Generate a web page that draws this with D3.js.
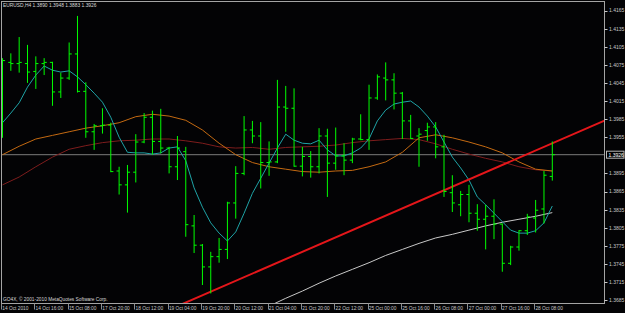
<!DOCTYPE html>
<html>
<head>
<meta charset="utf-8">
<script src="https://cdn.jsdelivr.net/npm/d3@7"></script>
<style>
html, body { margin: 0; padding: 0; background: #000; }
svg { display: block; }
text { font-family: "Liberation Sans", Arial, sans-serif; }
</style>
</head>
<body>
<div id="chart"></div>
<script>
// EURUSD H4 bars, 14 Oct 2010 00:00 .. 28 Oct 2010 16:00
const opens = [1.3970, 1.4079, 1.4077, 1.4077, 1.4064, 1.4077, 1.4079, 1.4030, 1.4053, 1.4093,
  1.4031, 1.3964, 1.3974, 1.3975, 1.3899, 1.3876, 1.3897, 1.3947, 1.3988, 1.3948,
  1.3937, 1.3906, 1.3931, 1.3808, 1.3776, 1.3740, 1.3757, 1.3769, 1.3846, 1.3895,
  1.3967, 1.3957, 1.3913, 1.3914, 1.4005, 1.4003, 1.3907, 1.3923, 1.3906, 1.3957,
  1.3912, 1.3924, 1.3917, 1.3952, 1.3951, 1.4020, 1.4053, 1.4050, 1.4028, 1.3982,
  1.3957, 1.3966, 1.3972, 1.3939, 1.3863, 1.3843, 1.3860, 1.3829, 1.3819, 1.3824,
  1.3811, 1.3746, 1.3773, 1.3800, 1.3821, 1.3836, 1.3890];
const highs = [1.4086, 1.4094, 1.4121, 1.4108, 1.4089, 1.4086, 1.4080, 1.4062, 1.4112, 1.4156,
  1.4046, 1.3977, 1.4003, 1.3979, 1.3906, 1.3909, 1.3960, 1.3995, 1.3999, 1.4002,
  1.3939, 1.3957, 1.3939, 1.3826, 1.3778, 1.3765, 1.3788, 1.3848, 1.3907, 1.3990,
  1.3982, 1.3980, 1.3948, 1.4050, 1.4040, 1.4036, 1.3939, 1.3932, 1.3970, 1.3969,
  1.3971, 1.3945, 1.3954, 1.3993, 1.4042, 1.4059, 1.4079, 1.4061, 1.4030, 1.3992,
  1.3970, 1.3979, 1.3980, 1.3959, 1.3892, 1.3866, 1.3876, 1.3844, 1.3843, 1.3852,
  1.3812, 1.3775, 1.3801, 1.3828, 1.3851, 1.3899, 1.3948];
const lows = [1.3954, 1.4065, 1.4062, 1.4045, 1.4035, 1.4058, 1.4007, 1.4020, 1.4050, 1.4029,
  1.3954, 1.3934, 1.3961, 1.3897, 1.3860, 1.3830, 1.3880, 1.3945, 1.3926, 1.3928,
  1.3895, 1.3884, 1.3790, 1.3763, 1.3710, 1.3696, 1.3747, 1.3753, 1.3820, 1.3892,
  1.3945, 1.3870, 1.3891, 1.3912, 1.3964, 1.3906, 1.3890, 1.3888, 1.3895, 1.3856,
  1.3901, 1.3892, 1.3912, 1.3950, 1.3934, 1.4017, 1.4016, 1.4001, 1.3952, 1.3952,
  1.3906, 1.3949, 1.3920, 1.3856, 1.3831, 1.3824, 1.3814, 1.3800, 1.3769, 1.3786,
  1.3732, 1.3743, 1.3767, 1.3793, 1.3797, 1.3812, 1.3883];
const closes = [1.4082, 1.4077, 1.4079, 1.4063, 1.4077, 1.4079, 1.4030, 1.4053, 1.4093, 1.4031,
  1.3964, 1.3974, 1.3975, 1.3898, 1.3876, 1.3897, 1.3947, 1.3988, 1.3948, 1.3937,
  1.3906, 1.3937, 1.3810, 1.3776, 1.3740, 1.3757, 1.3769, 1.3846, 1.3895, 1.3967,
  1.3957, 1.3913, 1.3914, 1.4005, 1.4003, 1.3907, 1.3923, 1.3906, 1.3957, 1.3912,
  1.3924, 1.3917, 1.3952, 1.3951, 1.4020, 1.4055, 1.4050, 1.4028, 1.3982, 1.3953,
  1.3960, 1.3972, 1.3939, 1.3865, 1.3846, 1.3860, 1.3829, 1.3819, 1.3824, 1.3811,
  1.3746, 1.3773, 1.3800, 1.3823, 1.3834, 1.3892, 1.3926];

// fast MA (cyan), one value per bar
const maFast = [1.3979, 1.3995, 1.4012, 1.4038, 1.4058, 1.4073, 1.4066, 1.4063, 1.4065, 1.4055,
  1.4042, 1.4028, 1.4013, 1.3988, 1.3955, 1.3930, 1.3929, 1.3929, 1.3927, 1.3929,
  1.3937, 1.3939, 1.3916, 1.3871, 1.3839, 1.3813, 1.3796, 1.3783, 1.3798, 1.3829,
  1.3862, 1.3887, 1.3912, 1.3937, 1.3960, 1.3950, 1.3945, 1.3944, 1.3950, 1.3934,
  1.3924, 1.3924, 1.3929, 1.3937, 1.3952, 1.3982, 1.4000, 1.4010, 1.4013, 1.4015,
  1.4005, 1.3990, 1.3972, 1.3947, 1.3922, 1.3904, 1.3884, 1.3856, 1.3843, 1.3829,
  1.3815, 1.3801, 1.3796, 1.3796, 1.3800, 1.3813, 1.3841];

// slower MAs, read every second bar
const maBars = [0, 2, 4, 6, 8, 10, 12, 14, 16, 18, 20, 22, 24, 26, 28, 30, 32,
  34, 36, 38, 40, 42, 44, 46, 48, 50, 52, 54, 56, 58, 60, 62, 64, 66];
const maOrange = [1.3926, 1.3940, 1.3952, 1.3958, 1.3964, 1.3970, 1.3974, 1.3979, 1.3989, 1.3993,
  1.3990, 1.3983, 1.3967, 1.3945, 1.3926, 1.3913, 1.3906, 1.3902, 1.3898, 1.3897,
  1.3899, 1.3900, 1.3906, 1.3914, 1.3930, 1.3954, 1.3959, 1.3954, 1.3947, 1.3939,
  1.3929, 1.3914, 1.3902, 1.3899];
const maRed = [1.3876, 1.3889, 1.3906, 1.3922, 1.3935, 1.3941, 1.3946, 1.3949, 1.3950, 1.3952,
  1.3952, 1.3949, 1.3945, 1.3939, 1.3937, 1.3938, 1.3935, 1.3938, 1.3939, 1.3940,
  1.3942, 1.3946, 1.3949, 1.3951, 1.3953, 1.3951, 1.3944, 1.3935, 1.3927, 1.3920,
  1.3914, 1.3906, 1.3901, 1.3899];
const whiteBars = [32, 34, 36, 38, 40, 42, 44, 46, 48, 50, 52, 54, 56, 58, 60, 62, 64, 66];
const maWhite = [1.3675, 1.3688, 1.3700, 1.3713, 1.3725, 1.3736, 1.3747, 1.3759, 1.3769, 1.3779,
  1.3788, 1.3794, 1.3801, 1.3808, 1.3814, 1.3819, 1.3824, 1.3830];

// trend line anchors (bar index, price)
const trendBars = [22, 66];
const trendPrices = [1.3681, 1.3945];

const bidPrice = 1.3926;
const priceTicks = [1.4165, 1.4135, 1.4105, 1.4075, 1.4045, 1.4015, 1.3985, 1.3955,
  1.3895, 1.3865, 1.3835, 1.3805, 1.3775, 1.3745, 1.3715, 1.3685];
const timeBars = [0, 4, 8, 12, 16, 20, 24, 28, 32, 36, 40, 44, 48, 52, 56, 60, 64];
const timeLabels = ["14 Oct 2010", "14 Oct 16:00", "15 Oct 08:00", "17 Oct 20:00", "18 Oct 12:00",
  "19 Oct 04:00", "19 Oct 20:00", "20 Oct 12:00", "21 Oct 04:00", "21 Oct 20:00", "22 Oct 12:00",
  "25 Oct 00:00", "25 Oct 16:00", "26 Oct 08:00", "27 Oct 00:00", "27 Oct 16:00", "28 Oct 08:00"];

const width = 625, height = 313;
const plot = { left: 1.5, right: 604.5, top: 1.5, bottom: 303.5 };

const x = d3.scaleLinear().domain([0, 66]).range([2.5, 552.3]);
const y = d3.scaleLinear().domain([1.3685, 1.4165]).range([300.1, 10.5]);

const svg = d3.select("#chart").append("svg")
    .attr("width", width)
    .attr("height", height);

svg.append("rect").attr("width", width).attr("height", height).attr("fill", "#030305");

svg.append("defs").append("clipPath").attr("id", "plot-clip")
  .append("rect")
    .attr("x", plot.left).attr("y", plot.top)
    .attr("width", plot.right - plot.left).attr("height", plot.bottom - plot.top);

const g = svg.append("g").attr("clip-path", "url(#plot-clip)");

// bid line
g.append("line")
    .attr("x1", plot.left).attr("x2", plot.right)
    .attr("y1", y(bidPrice)).attr("y2", y(bidPrice))
    .attr("stroke", "#7c7c7c").attr("stroke-width", 1);

// moving averages
const lineIdx = d3.line().x(d => x(d[0])).y(d => y(d[1]));
const maLines = [
  { pts: maBars.map((b, i) => [b, maRed[i]]), color: "#7e1d1d" },
  { pts: maBars.map((b, i) => [b, maOrange[i]]), color: "#c46a12" },
  { pts: whiteBars.map((b, i) => [b, maWhite[i]]), color: "#c8c8c8" },
  { pts: maFast.map((v, i) => [i, v]), color: "#1fa3a6" }
];
maLines.forEach(m => {
  g.append("path")
      .attr("d", lineIdx(m.pts))
      .attr("fill", "none")
      .attr("stroke", m.color)
      .attr("stroke-width", 1);
});

// trend line, extended across the plot
const slope = (trendPrices[1] - trendPrices[0]) / (trendBars[1] - trendBars[0]);
const bL = x.invert(plot.left), bR = x.invert(plot.right);
g.append("line")
    .attr("x1", x(bL)).attr("y1", y(trendPrices[0] + slope * (bL - trendBars[0])))
    .attr("x2", x(bR)).attr("y2", y(trendPrices[0] + slope * (bR - trendBars[0])))
    .attr("stroke", "#e4161a").attr("stroke-width", 2);

// OHLC bars
const bars = opens.map((o, i) => ({ i, o, h: highs[i], l: lows[i], c: closes[i] }));
const barG = g.append("g").attr("stroke", "#00ff00").attr("stroke-width", 1);
barG.selectAll(".hl").data(bars).enter().append("line")
    .attr("x1", d => x(d.i)).attr("x2", d => x(d.i))
    .attr("y1", d => y(d.h)).attr("y2", d => y(d.l));
barG.selectAll(".op").data(bars).enter().append("line")
    .attr("x1", d => x(d.i) - 2.6).attr("x2", d => x(d.i))
    .attr("y1", d => y(d.o)).attr("y2", d => y(d.o));
barG.selectAll(".cl").data(bars).enter().append("line")
    .attr("x1", d => x(d.i)).attr("x2", d => x(d.i) + 2.6)
    .attr("y1", d => y(d.c)).attr("y2", d => y(d.c));

// frame
svg.append("rect")
    .attr("x", plot.left).attr("y", plot.top)
    .attr("width", plot.right - plot.left).attr("height", plot.bottom - plot.top)
    .attr("fill", "none").attr("stroke", "#a4a4a4").attr("stroke-width", 1);

// price axis
const axisColor = "#c8c8c8";
svg.selectAll(".ptick").data(priceTicks).enter().append("line")
    .attr("x1", plot.right).attr("x2", plot.right + 3)
    .attr("y1", d => Math.round(y(d)) + 0.5).attr("y2", d => Math.round(y(d)) + 0.5)
    .attr("stroke", axisColor);
svg.selectAll(".plabel").data(priceTicks).enter().append("text")
    .attr("x", 609).attr("y", d => y(d) + 1.9)
    .attr("fill", axisColor)
    .style("font-size", "5px")
    .text(d => d.toFixed(4));

// bid label
svg.append("rect")
    .attr("x", 606.5).attr("y", y(bidPrice) - 3.5)
    .attr("width", 17.5).attr("height", 7)
    .attr("fill", "#000").attr("stroke", "#b8b8b8").attr("stroke-width", 1);
svg.append("text")
    .attr("x", 608.5).attr("y", y(bidPrice) + 1.9)
    .attr("fill", "#ffffff")
    .style("font-size", "5px")
    .text(bidPrice.toFixed(4));

// time axis
svg.selectAll(".ttick").data(timeBars).enter().append("line")
    .attr("x1", d => Math.round(x(d) - 1.5) + 0.5).attr("x2", d => Math.round(x(d) - 1.5) + 0.5)
    .attr("y1", plot.bottom).attr("y2", plot.bottom + 6)
    .attr("stroke", "#8c8c8c");
svg.selectAll(".tlabel").data(timeBars).enter().append("text")
    .attr("x", d => x(d) - 0.2).attr("y", 310)
    .attr("fill", axisColor)
    .style("font-size", "4.8px")
    .text((d, i) => timeLabels[i]);

// header and footer
svg.append("text")
    .attr("x", 3).attr("y", 7)
    .attr("fill", "#d8d8d8")
    .style("font-size", "4.9px")
    .text("EURUSD,H4 " + [opens[66], highs[66], lows[66], closes[66]].map(v => v.toFixed(4)).join(" "));
svg.append("text")
    .attr("x", 3).attr("y", 301)
    .attr("fill", "#d8d8d8")
    .style("font-size", "4.8px")
    .text("GO4X, \u00a9 2001-2010 MetaQuotes Software Corp.");
</script>
</body>
</html>
